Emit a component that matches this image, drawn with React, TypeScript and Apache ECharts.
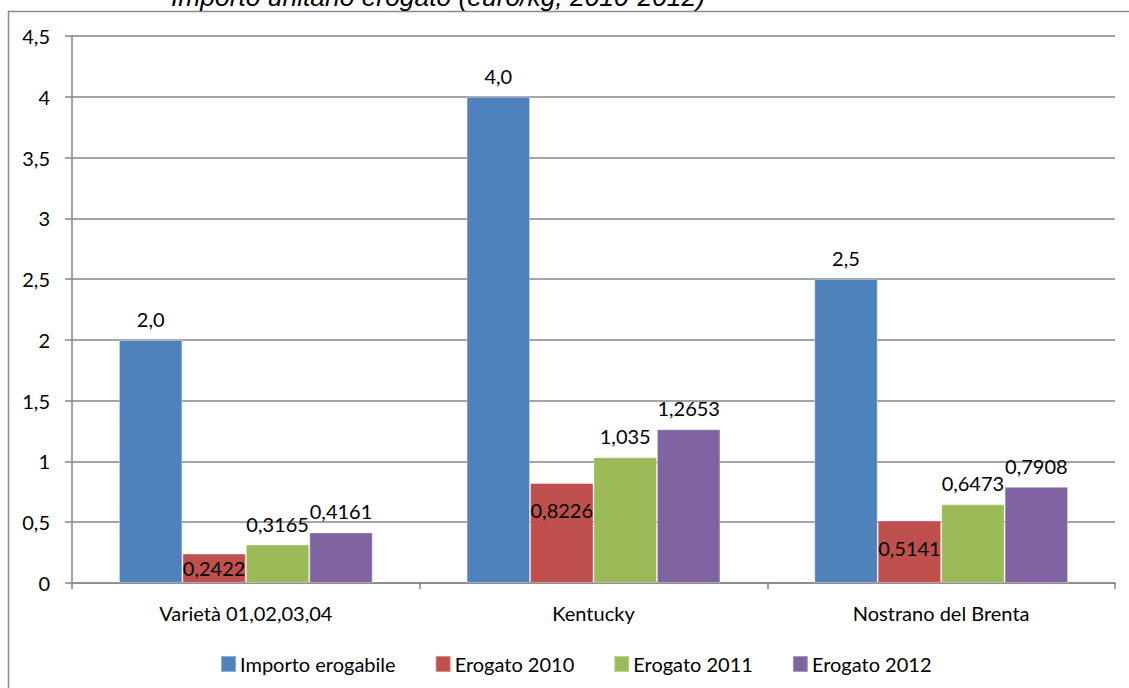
import { useEffect, useRef } from "react";
import * as echarts from "echarts";

// Unit amounts paid out per variety (euro/kg)
const categories = ["Varietà 01,02,03,04", "Kentucky", "Nostrano del Brenta"];
const seriesNames = ["Importo erogabile", "Erogato 2010", "Erogato 2011", "Erogato 2012"];
const importoErogabile = [2.0, 4.0, 2.5];
const erogato2010 = [0.2422, 0.8226, 0.5141];
const erogato2011 = [0.3165, 1.035, 0.6473];
const erogato2012 = [0.4161, 1.2653, 0.7908];
const colors = ["#4F81BD", "#C0504D", "#9BBB59", "#8064A2"];
const titleText = "Importo unitario erogato (euro/kg, 2010-2012)";

const FONT = "Lato";
const comma = (v: number) => String(v).replace(".", ",");

export default function App() {
  const ref = useRef<HTMLDivElement>(null);

  useEffect(() => {
    if (!ref.current) return;
    const chart = echarts.init(ref.current, null, { renderer: "svg" });

    const topLabel = (fmt: (v: number) => string) => ({
      show: true,
      position: "top" as const,
      distance: 11,
      color: "#000",
      fontFamily: FONT,
      fontSize: 20,
      formatter: (p: any) => fmt(p.value),
    });

    const barBase = {
      type: "bar" as const,
      barGap: "0%",
      barCategoryGap: "27%",
    };

    chart.setOption({
      animation: false,
      backgroundColor: "#fff",
      textStyle: { fontFamily: FONT, color: "#000" },
      graphic: [
        {
          type: "rect",
          shape: { x: 8.5, y: 11.5, width: 1300, height: 800 },
          style: { fill: "none", stroke: "#8a8a8a", lineWidth: 1.5 },
          silent: true,
          z: -1,
        },
        {
          type: "text",
          x: 171,
          y: 10,
          style: {
            text: titleText,
            font: 'italic 26.4px "Liberation Sans", Arial, sans-serif',
            fill: "#000",
            align: "left",
            verticalAlign: "bottom",
          },
          silent: true,
        },
      ],
      grid: { left: 72, right: 14, top: 36, bottom: 105, containLabel: false },
      legend: {
        left: 220,
        top: 654,
        padding: 0,
        itemWidth: 15,
        itemHeight: 16,
        itemGap: 39,
        icon: "rect",
        textStyle: { fontFamily: FONT, fontSize: 20, color: "#000", padding: [0, 0, 0, -1] },
        data: seriesNames,
      },
      xAxis: {
        type: "category",
        data: categories,
        axisLine: { show: true, lineStyle: { color: "#868686", width: 1.5 } },
        axisTick: { show: true, length: 6, lineStyle: { color: "#868686", width: 1.5 } },
        axisLabel: { fontFamily: FONT, fontSize: 20, color: "#000", margin: 20 },
      },
      yAxis: {
        type: "value",
        min: 0,
        max: 4.5,
        interval: 0.5,
        axisLine: { show: true, lineStyle: { color: "#868686", width: 1.5 } },
        axisTick: { show: true, length: 7, lineStyle: { color: "#868686", width: 1.5 } },
        splitLine: { show: true, lineStyle: { color: "#868686", width: 1.5 } },
        axisLabel: {
          fontFamily: FONT,
          fontSize: 20,
          color: "#000",
          margin: 22,
          formatter: (v: number) => comma(v),
        },
      },
      series: [
        {
          ...barBase,
          name: seriesNames[0],
          data: importoErogabile,
          itemStyle: { color: colors[0], borderColor: "rgba(255,255,255,0.35)", borderWidth: 1 },
          label: topLabel((v) => v.toFixed(1).replace(".", ",")),
        },
        {
          ...barBase,
          name: seriesNames[1],
          data: erogato2010.map((v) =>
            v < 0.4 ? { value: v, label: { position: "insideBottom", distance: 5 } } : v
          ),
          itemStyle: { color: colors[1], borderColor: "rgba(255,255,255,0.35)", borderWidth: 1 },
          label: {
            show: true,
            position: "insideTop",
            distance: 17,
            color: "#000",
            fontFamily: FONT,
            fontSize: 20,
            formatter: (p: any) => comma(p.value),
          },
        },
        {
          ...barBase,
          name: seriesNames[2],
          data: erogato2011,
          itemStyle: { color: colors[2], borderColor: "rgba(255,255,255,0.35)", borderWidth: 1 },
          label: topLabel(comma),
        },
        {
          ...barBase,
          name: seriesNames[3],
          data: erogato2012,
          itemStyle: { color: colors[3], borderColor: "rgba(255,255,255,0.35)", borderWidth: 1 },
          label: topLabel(comma),
        },
      ],
    });

    return () => chart.dispose();
  }, []);

  return (
    <div
      ref={ref}
      style={{ position: "fixed", left: 0, top: 0, width: 1129, height: 688 }}
    />
  );
}
